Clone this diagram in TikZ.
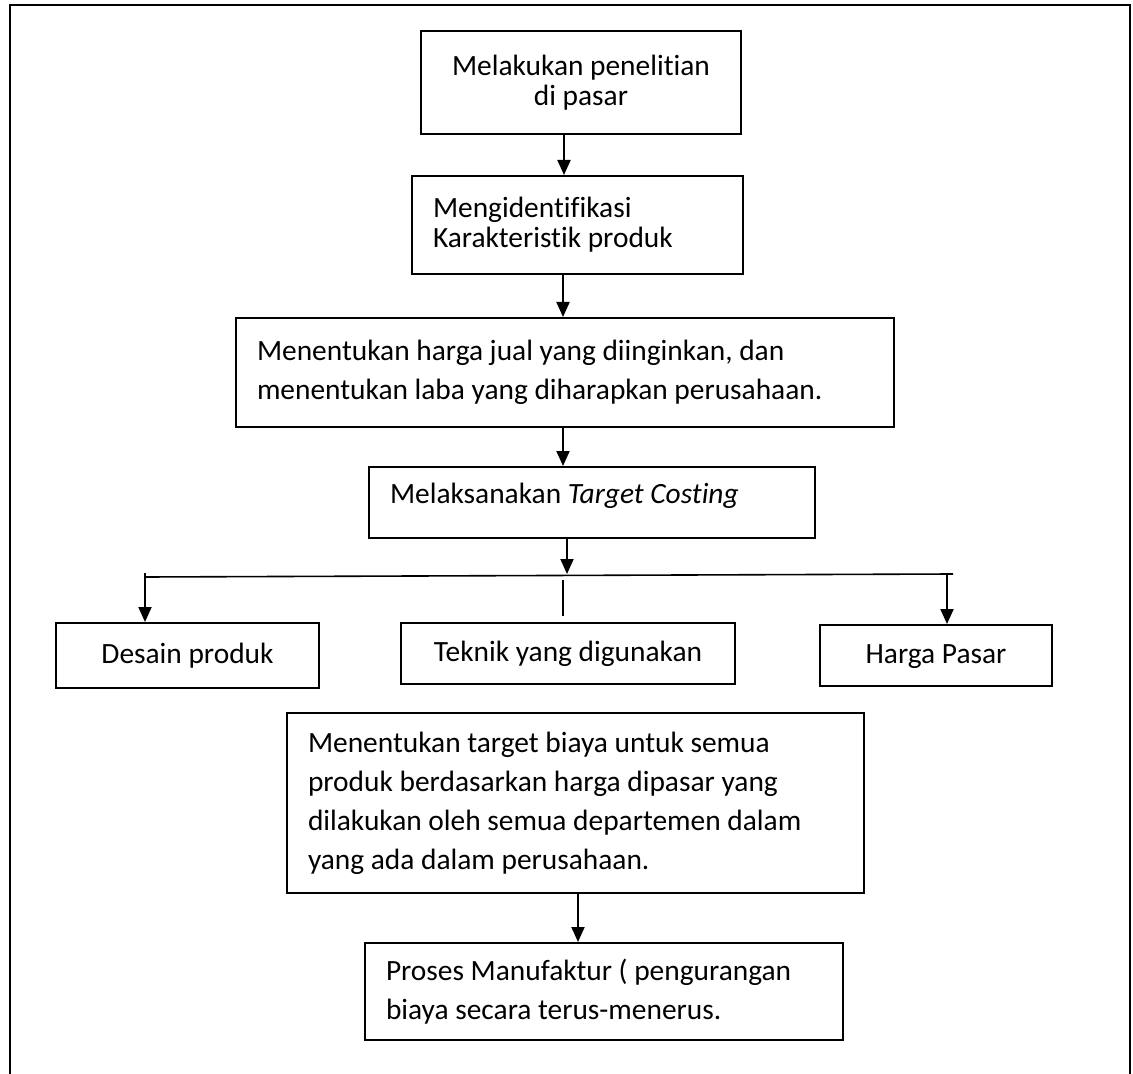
\documentclass[tikz,border=0pt]{standalone}
\usepackage{fontspec}
\setmainfont{Carlito}[Ligatures=NoCommon]
\usetikzlibrary{shapes, arrows.meta}
\tikzstyle{boxes} = [rectangle, draw=black, line width=1pt, inner xsep=10.5pt, inner ysep=0pt,
align=flush left, font=\fontsize{14.7}{19.5}\selectfont]
\tikzstyle{tight} = [font=\fontsize{14.7}{15}\selectfont]
\tikzstyle{single} = [align=center, text height=10.5pt, text depth=3pt]
\tikzstyle{line} = [line width=0.8pt, -]
\tikzstyle{arrow} = [line width=1pt, -{Triangle[length=7.5pt, width=6.5pt]}]

\begin{document}
\begin{tikzpicture}[x=0.5pt, y=-0.5pt]
    \useasboundingbox (0,0) rectangle (1133,1074);
    % page frame, open at the bottom
    \draw[line width=0.9pt] (10,1074) -- (10,5) -- (1130,5) -- (1130,1074);

    \node (penelitian) [boxes, tight, align=flush center, text width=139pt, minimum height=51.5pt] at (581,82.5)
        {Melakukan penelitian\\di pasar};
    \node (identifikasi) [boxes, tight, text width=144.5pt, minimum height=49pt] at (577.5,225)
        {Mengidentifikasi\\Karakteristik produk};
    \node (hargaJual) [boxes, text width=308pt, minimum height=54.5pt] at (565,372.5)
        {Menentukan harga jual yang diinginkan, dan\\menentukan laba yang diharapkan perusahaan.};
    \node (targetCosting) [boxes, text width=202pt, minimum height=35.5pt, text depth=9pt] at (592,502.5)
        {Melaksanakan \textit{Target Costing}};
    \node (desain) [boxes, single, minimum width=131.5pt, minimum height=32.5pt] at (187.5,655.5)
        {Desain produk};
    \node (teknik) [boxes, single, minimum width=167pt, minimum height=30.5pt] at (568,653.5)
        {Teknik yang digunakan};
    \node (hargaPasar) [boxes, single, minimum width=116pt, minimum height=30.5pt] at (936,655.5)
        {Harga Pasar};
    \node (targetBiaya) [boxes, text width=267.5pt, minimum height=90pt] at (575.5,803)
        {Menentukan target biaya untuk semua\\produk berdasarkan harga dipasar yang\\dilakukan oleh semua departemen dalam\\yang ada dalam perusahaan.};
    \node (manufaktur) [boxes, text width=218pt, minimum height=48.5pt] at (604,991.5)
        {Proses Manufaktur ( pengurangan\\biaya secara terus-menerus.};

    % branching bar under Target Costing
    \coordinate (busW) at (145,577);
    \coordinate (busE) at (953,574);
    \coordinate (tickW) at (145,573);
    \coordinate (tickE) at (947,573);
    \coordinate (busMid) at (563,580);

    \draw[arrow] ([xshift=-8.5pt]penelitian.south) -- ([xshift=-8.5pt]penelitian.south |- identifikasi.north);
    \draw[arrow] ([xshift=-7.25pt]identifikasi.south) -- ([xshift=-7.25pt]identifikasi.south |- hargaJual.north);
    \draw[arrow] ([xshift=-1pt]hargaJual.south) -- ([xshift=-1pt]hargaJual.south |- targetCosting.north);
    \draw[arrow] ([xshift=-12.5pt]targetCosting.south) -- ([xshift=-12.5pt]targetCosting.south |- busE);
    \draw[line] (busW) -- (busE);
    \draw[arrow] (tickW) -- (tickW |- desain.north);
    \draw[arrow] (tickE) -- (tickE |- hargaPasar.north);
    \draw[line] (busMid) -- ([yshift=3pt]busMid |- teknik.north);
    \draw[arrow] ([xshift=1.25pt]targetBiaya.south) -- ([xshift=1.25pt]targetBiaya.south |- manufaktur.north);

\end{tikzpicture}
\end{document}
